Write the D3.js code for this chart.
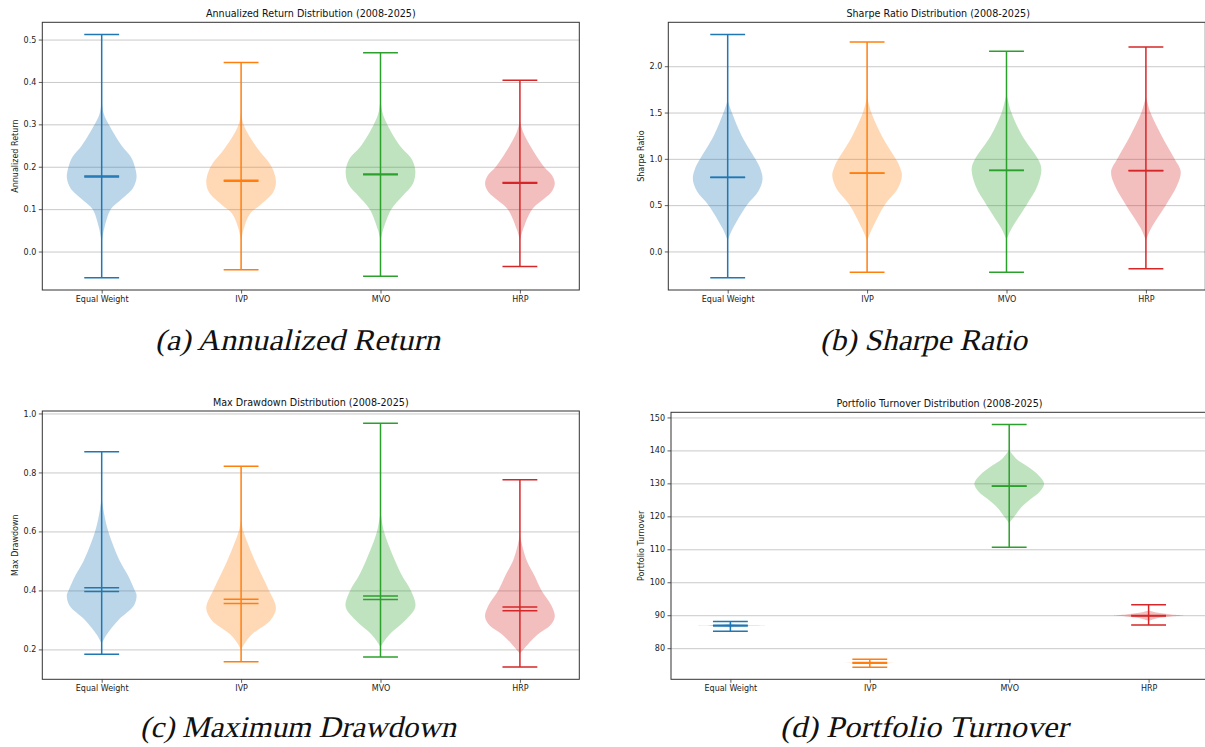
<!DOCTYPE html>
<html>
<head>
<meta charset="utf-8">
<script src="https://cdn.jsdelivr.net/npm/d3@7"></script>
<style>
  html, body { margin: 0; padding: 0; background: #fff; }
  svg { display: block; }
  .cap { font-family: "Liberation Serif", "DejaVu Serif", serif; font-style: normal; }
  .sans { font-family: "DejaVu Sans", sans-serif; }
</style>
</head>
<body>
<svg id="chart" width="1205" height="747"></svg>
<script>
// ---------- DATA ----------
const categories = ["Equal Weight", "IVP", "MVO", "HRP"];

// (a) Annualized Return
const retMin = [-0.062, -0.043, -0.058, -0.035];
const retMax = [0.512, 0.446, 0.469, 0.404];
const retMean = [0.178, 0.168, 0.183, 0.163];
const retMedian = [0.176, 0.166, 0.181, 0.161];
const retTicks = [0.0, 0.1, 0.2, 0.3, 0.4, 0.5];
const retProfiles = [
  [[0.022,0],[0.057,0.08],[0.10,0.26],[0.12,0.52],[0.15,0.9],[0.175,1],[0.20,0.95],[0.223,0.84],[0.25,0.57],[0.30,0.2],[0.325,0.06],[0.357,0]],
  [[0.026,0],[0.055,0.08],[0.09,0.26],[0.11,0.55],[0.14,0.92],[0.164,1],[0.19,0.93],[0.21,0.8],[0.24,0.5],[0.28,0.18],[0.305,0.05],[0.329,0]],
  [[0.026,0],[0.05,0.07],[0.10,0.31],[0.13,0.62],[0.16,0.93],[0.185,1],[0.20,0.98],[0.22,0.88],[0.25,0.55],[0.30,0.19],[0.33,0.05],[0.361,0]],
  [[0.026,0],[0.05,0.08],[0.10,0.35],[0.12,0.62],[0.14,0.9],[0.16,1],[0.18,0.92],[0.20,0.69],[0.25,0.29],[0.28,0.1],[0.30,0.02],[0.306,0]]
];

// (b) Sharpe Ratio
const shMin = [-0.285, -0.224, -0.224, -0.188];
const shMax = [2.343, 2.263, 2.162, 2.209];
const shMean = [0.802, 0.848, 0.878, 0.874];
const shMedian = [0.798, 0.844, 0.874, 0.870];
const shTicks = [0.0, 0.5, 1.0, 1.5, 2.0];
const shProfiles = [
  [[0.12,0],[0.25,0.15],[0.5,0.55],[0.65,0.88],[0.78,1],[0.9,0.93],[1.0,0.79],[1.25,0.4],[1.5,0.12],[1.63,0]],
  [[0.12,0],[0.25,0.15],[0.5,0.5],[0.68,0.88],[0.82,1],[0.92,0.93],[1.0,0.82],[1.25,0.42],[1.5,0.12],[1.668,0]],
  [[0.13,0],[0.25,0.15],[0.5,0.57],[0.7,0.88],[0.89,1],[1.0,0.9],[1.25,0.45],[1.5,0.14],[1.70,0]],
  [[0.12,0],[0.25,0.15],[0.5,0.57],[0.7,0.88],[0.86,1],[1.0,0.82],[1.25,0.45],[1.5,0.13],[1.67,0]]
];

// (c) Max Drawdown
const mddMin = [0.184, 0.158, 0.174, 0.140];
const mddMax = [0.870, 0.821, 0.967, 0.775];
const mddMean = [0.409, 0.370, 0.381, 0.344];
const mddMedian = [0.396, 0.356, 0.369, 0.331];
const mddTicks = [0.2, 0.4, 0.6, 0.8, 1.0];
const mddProfiles = [
  [[0.22,0],[0.25,0.14],[0.30,0.48],[0.35,0.93],[0.385,1],[0.40,0.95],[0.45,0.76],[0.50,0.52],[0.60,0.19],[0.66,0.07],[0.713,0]],
  [[0.198,0],[0.22,0.1],[0.25,0.3],[0.30,0.85],[0.34,1],[0.40,0.8],[0.45,0.6],[0.50,0.4],[0.60,0.07],[0.64,0]],
  [[0.209,0],[0.25,0.25],[0.30,0.72],[0.345,1],[0.40,0.87],[0.45,0.62],[0.50,0.42],[0.60,0.1],[0.668,0]],
  [[0.186,0],[0.20,0.1],[0.25,0.5],[0.28,0.86],[0.311,1],[0.35,0.9],[0.40,0.62],[0.45,0.42],[0.50,0.2],[0.55,0.07],[0.589,0]]
];

// (d) Portfolio Turnover
const toMin = [85.15, 74.24, 110.6, 87.06];
const toMax = [88.08, 76.67, 147.88, 93.2];
const toMean = [86.92, 75.62, 129.2, 89.9];
const toMedian = [86.75, 75.40, 129.1, 89.8];
const toTicks = [80, 90, 100, 110, 120, 130, 140, 150];
const toProfiles = [
  [[86.2,0],[86.55,0.12],[86.75,0.45],[86.9,1],[87.05,0.45],[87.25,0.12],[87.6,0]],
  [[75.1,0],[75.35,0.15],[75.5,1],[75.65,0.15],[75.9,0]],
  [[117.9,0],[120,0.15],[122.5,0.33],[125,0.59],[127.5,0.88],[130,1],[132.5,0.84],[135,0.55],[137.5,0.2],[140.1,0]],
  [[88.3,0],[89.0,0.22],[89.6,0.65],[89.9,1],[90.2,0.65],[90.8,0.22],[91.4,0]]
];

// ---------- STYLE / LAYOUT ----------
const colors = ["#1f77b4", "#ff7f0e", "#2ca02c", "#d62728"];

const panels = [
  { title: "Annualized Return Distribution (2008-2025)", ylabel: "Annualized Return",
    min: retMin, max: retMax, mean: retMean, median: retMedian, ticks: retTicks, prof: retProfiles,
    fmt: d3.format(".1f"), box: [42.3, 22.3, 579.3, 290], ylabX: 15,
    caption: "(a) Annualized Return", capX: 297.5, capY: 350, capW: 285 },
  { title: "Sharpe Ratio Distribution (2008-2025)", ylabel: "Sharpe Ratio",
    min: shMin, max: shMax, mean: shMean, median: shMedian, ticks: shTicks, prof: shProfiles,
    fmt: d3.format(".1f"), box: [668.3, 22.3, 1205.3, 290], ylabX: 641.7,
    caption: "(b) Sharpe Ratio", capX: 923.5, capY: 350, capW: 207 },
  { title: "Max Drawdown Distribution (2008-2025)", ylabel: "Max Drawdown",
    min: mddMin, max: mddMax, mean: mddMean, median: mddMedian, ticks: mddTicks, prof: mddProfiles,
    fmt: d3.format(".1f"), box: [42.3, 411, 579.3, 679.3], ylabX: 15,
    caption: "(c) Maximum Drawdown", capX: 298, capY: 737, capW: 316 },
  { title: "Portfolio Turnover Distribution (2008-2025)", ylabel: "Portfolio Turnover",
    min: toMin, max: toMax, mean: toMean, median: toMedian, ticks: toTicks, prof: toProfiles,
    fmt: d3.format("d"), box: [671, 412.3, 1208, 679.3], ylabX: 641.7,
    caption: "(d) Portfolio Turnover", capX: 924, capY: 737, capW: 288 }
];

const svg = d3.select("#chart");
svg.append("rect").attr("width", 1205).attr("height", 747).attr("fill", "#fff");

panels.forEach(p => {
  const [x0, y0, x1, y1] = p.box;
  const lo = d3.min(p.min), hi = d3.max(p.max);
  const pad = (hi - lo) * 0.05;
  const y = d3.scaleLinear().domain([lo - pad, hi + pad]).range([y1, y0]);
  const x = d3.scaleLinear().domain([0.574, 4.426]).range([x0, x1]);
  const unit = x(2) - x(1);
  const halfW = 0.25 * unit;   // violin half width
  const capW = 0.125 * unit;   // cap half width

  const g = svg.append("g");
  const clipId = "clip" + Math.round(x0) + "_" + Math.round(y0);
  svg.append("clipPath").attr("id", clipId).append("rect")
    .attr("x", x0).attr("y", y0).attr("width", x1 - x0).attr("height", y1 - y0);

  // grid
  const yAxisGrid = d3.axisLeft(y).tickValues(p.ticks).tickSize(-(x1 - x0)).tickFormat("");
  const grid = g.append("g").attr("transform", `translate(${x0},0)`).call(yAxisGrid);
  grid.select(".domain").remove();
  grid.selectAll("line").attr("stroke", "#c9c9c9").attr("stroke-width", 1);

  const plot = g.append("g").attr("clip-path", `url(#${clipId})`);

  categories.forEach((c, i) => {
    const cx = x(i + 1);
    const area = d3.area()
      .y(d => y(d[0]))
      .x0(d => cx - d[1] * halfW)
      .x1(d => cx + d[1] * halfW)
      .curve(d3.curveCatmullRom.alpha(0.5));
    plot.append("path").datum(p.prof[i]).attr("d", area)
      .attr("fill", colors[i]).attr("fill-opacity", 0.3).attr("stroke", "none");

    const lineStyle = sel => sel.attr("stroke", colors[i]).attr("stroke-width", 1.5).attr("fill", "none");
    plot.append("line").attr("x1", cx).attr("x2", cx)
      .attr("y1", y(p.min[i])).attr("y2", y(p.max[i])).call(lineStyle);
    [p.min[i], p.max[i], p.mean[i], p.median[i]].forEach(v => {
      plot.append("line").attr("x1", cx - capW).attr("x2", cx + capW)
        .attr("y1", y(v)).attr("y2", y(v)).call(lineStyle);
    });
  });

  // axes
  const ya = g.append("g").attr("transform", `translate(${x0},0)`)
    .call(d3.axisLeft(y).tickValues(p.ticks).tickFormat(p.fmt).tickSize(3.5).tickPadding(2.5));
  ya.select(".domain").remove();
  ya.attr("font-family", null).attr("font-size", null);
  ya.selectAll("line").attr("stroke", "#333").attr("stroke-width", 0.8);
  ya.selectAll("text").attr("class", "sans").attr("font-size", 8).attr("fill", "#222");

  const xa = g.append("g").attr("transform", `translate(0,${y1})`)
    .call(d3.axisBottom(x).tickValues([1, 2, 3, 4]).tickFormat((d) => categories[d - 1]).tickSize(3.5).tickPadding(2.5));
  xa.select(".domain").remove();
  xa.attr("font-family", null).attr("font-size", null);
  xa.selectAll("line").attr("stroke", "#333").attr("stroke-width", 0.8);
  xa.selectAll("text").attr("class", "sans").attr("font-size", 8).attr("fill", "#222");

  // frame
  g.append("rect").attr("x", x0).attr("y", y0).attr("width", x1 - x0).attr("height", y1 - y0)
    .attr("fill", "none").attr("stroke", "#333").attr("stroke-width", 1);

  // title
  g.append("text").attr("class", "sans")
    .attr("x", (x0 + Math.min(x1, 1205)) / 2 + (x1 > 1205 ? 1.5 : 0)).attr("y", y0 - 5)
    .attr("text-anchor", "middle").attr("font-size", 9.6)
    .attr("fill", "#111").text(p.title);

  // y label
  g.append("text").attr("class", "sans")
    .attr("transform", `translate(${p.ylabX},${(y0 + y1) / 2}) rotate(-90)`)
    .attr("text-anchor", "middle").attr("dominant-baseline", "middle")
    .attr("font-size", 8).attr("fill", "#222").text(p.ylabel);

  // caption (serif, slanted)
  svg.append("text").attr("class", "cap")
    .attr("transform", `translate(${p.capX},${p.capY}) skewX(-13)`)
    .attr("x", 0).attr("y", 0).attr("text-anchor", "middle")
    .attr("font-size", 30)
    .attr("fill", "#111").attr("textLength", p.capW).attr("lengthAdjust", "spacingAndGlyphs")
    .text(p.caption);
});
</script>
</body>
</html>
